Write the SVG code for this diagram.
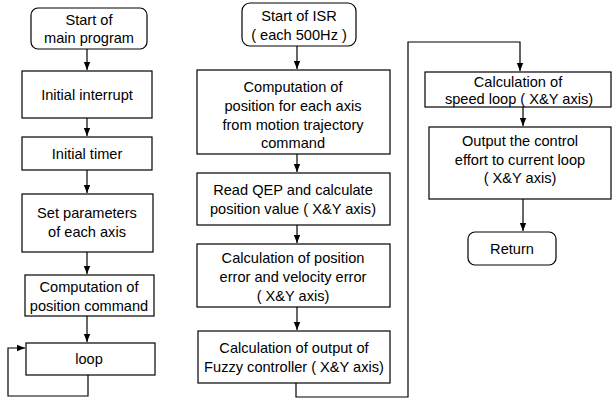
<svg xmlns="http://www.w3.org/2000/svg" width="612" height="399" viewBox="0 0 612 399">
<defs>
<marker id="ah" viewBox="0 0 8 8" refX="8" refY="4" markerWidth="8" markerHeight="8" markerUnits="userSpaceOnUse" orient="auto">
<path d="M0,0.8 L8,4 L0,7.2 Z" fill="#000"/>
</marker>
<style>
.b{fill:#fff;stroke:#000;stroke-width:1.2}
.c{fill:none;stroke:#000;stroke-width:1.2}
text{font-family:"Liberation Sans",Arial,sans-serif;font-size:14.6px;fill:#000;text-anchor:middle}
</style>
</defs>
<rect width="612" height="399" fill="#fff"/>
<g id="connectors">
<path class="c" d="M87,49 V70" marker-end="url(#ah)"/>
<path class="c" d="M87,118 V136" marker-end="url(#ah)"/>
<path class="c" d="M87,170 V193" marker-end="url(#ah)"/>
<path class="c" d="M87,252 V274" marker-end="url(#ah)"/>
<path class="c" d="M87,316 V342" marker-end="url(#ah)"/>
<path class="c" d="M88,375 V396 H8 V348 H25" marker-end="url(#ah)"/>
<path class="c" d="M297,46 V69" marker-end="url(#ah)"/>
<path class="c" d="M297,154 V172" marker-end="url(#ah)"/>
<path class="c" d="M297,225 V243" marker-end="url(#ah)"/>
<path class="c" d="M297,307 V330" marker-end="url(#ah)"/>
<path class="c" d="M296,383 V397 H408 V42 H520 V71" marker-end="url(#ah)"/>
<path class="c" d="M523,107 V126" marker-end="url(#ah)"/>
<path class="c" d="M523,199 V231" marker-end="url(#ah)"/>
</g>
<g id="start_main"><rect class="b" x="31" y="8" width="116" height="41" rx="7"/><text x="89" y="25">Start of</text><text x="89" y="43">main program</text></g>
<g id="init_interrupt"><rect class="b" x="22" y="71" width="130" height="47"/><text x="87" y="100">Initial interrupt</text></g>
<g id="init_timer"><rect class="b" x="22" y="137" width="130" height="33"/><text x="87" y="159">Initial timer</text></g>
<g id="set_params"><rect class="b" x="22" y="194" width="131" height="58"/><text x="87" y="218">Set parameters</text><text x="87" y="236.5">of each axis</text></g>
<g id="comp_pos"><rect class="b" x="25" y="275" width="129" height="41"/><text x="89" y="292">Computation of</text><text x="89" y="310.5">position command</text></g>
<g id="loop"><rect class="b" x="26" y="343" width="129" height="32"/><text x="89" y="364">loop</text></g>
<g id="start_isr"><rect class="b" x="242" y="3" width="114" height="43" rx="8"/><text x="299" y="21">Start of ISR</text><text x="299" y="39.5">( each 500Hz )</text></g>
<g id="comp_traj"><rect class="b" x="197" y="70" width="193" height="84"/><text x="293" y="91.5">Computation of</text><text x="293" y="110.5">position for each axis</text><text x="293" y="129.5">from motion trajectory</text><text x="293" y="147.5">command</text></g>
<g id="read_qep"><rect class="b" x="197" y="173" width="193" height="52"/><text x="293" y="195">Read QEP and calculate</text><text x="293" y="214">position value ( X&amp;Y axis)</text></g>
<g id="pos_err"><rect class="b" x="197" y="244" width="193" height="63"/><text x="293" y="263">Calculation of position</text><text x="293" y="282">error and velocity error</text><text x="293" y="300.5">( X&amp;Y axis)</text></g>
<g id="fuzzy"><rect class="b" x="198" y="331" width="192" height="52"/><text x="294" y="353">Calculation of output of</text><text x="294" y="372">Fuzzy controller ( X&amp;Y axis)</text></g>
<g id="speed"><rect class="b" x="425" y="72" width="186" height="35"/><text x="518" y="87">Calculation of</text><text x="519" y="104">speed loop ( X&amp;Y axis)</text></g>
<g id="output"><rect class="b" x="429" y="127" width="182" height="72"/><text x="520" y="146">Output the control</text><text x="520" y="164.5">effort to current loop</text><text x="520" y="183">( X&amp;Y axis)</text></g>
<g id="return"><rect class="b" x="468" y="232" width="88" height="33" rx="7"/><text x="512" y="254">Return</text></g>
</svg>
